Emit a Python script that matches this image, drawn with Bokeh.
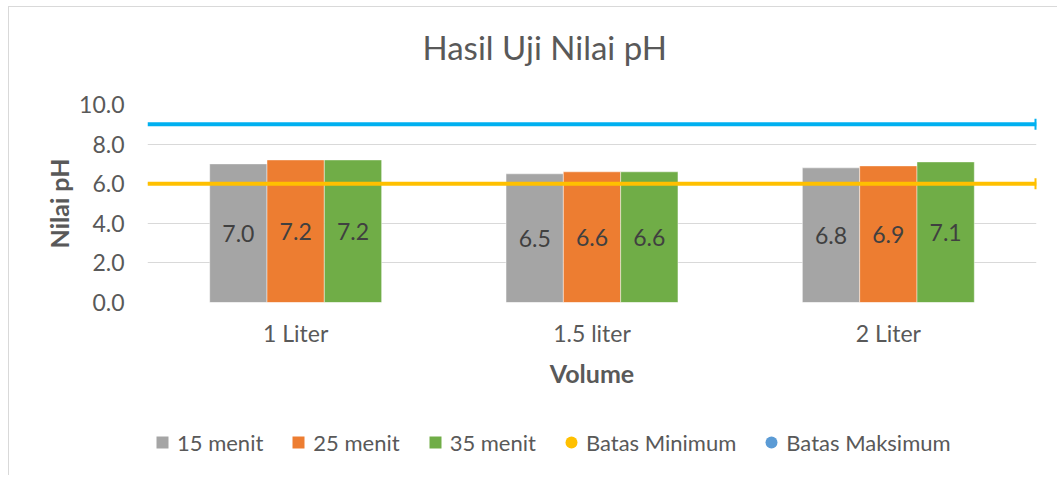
import math
from bokeh.plotting import figure
from bokeh.layouts import column
from bokeh.models import Range1d, Span, Legend, LegendItem, FixedTicker, PrintfTickFormatter
from bokeh.embed import file_html
from bokeh.resources import INLINE
from bokeh.core.properties import value

# ---- data ----
categories = ["1 Liter", "1.5 liter", "2 Liter"]
series_names = ["15 menit", "25 menit", "35 menit"]
menit_15 = [7.0, 6.5, 6.8]
menit_25 = [7.2, 6.6, 6.9]
menit_35 = [7.2, 6.6, 7.1]
batas_minimum = 6.0
batas_maksimum = 9.0
y_ticks = [0, 2, 4, 6, 8, 10]

series_values = [menit_15, menit_25, menit_35]
bar_colors = ["#a5a5a5", "#ed7d31", "#70ad47"]
FONT = "Lato"
TEXT = "#595959"
W = 1048


def blank(fig):
    fig.xaxis.visible = False
    fig.yaxis.visible = False
    fig.grid.visible = False
    fig.outline_line_color = None
    fig.background_fill_color = "white"
    fig.border_fill_color = "white"


# title strip
t = figure(width=W, height=83, output_backend="svg", toolbar_location=None,
           min_border_left=0, min_border_right=0, min_border_top=0, min_border_bottom=0,
           title="Hasil Uji Nilai pH")
blank(t)
t.title.align = "left"
t.title.offset = 275
t.title.text_font = FONT
t.title.text_font_size = "33px"
t.title.text_font_style = "normal"
t.title.text_color = TEXT
t.title.standoff = 48

p = figure(width=W, height=310, output_backend="svg", toolbar_location=None,
           x_range=Range1d(0, len(categories)), y_range=Range1d(0, 10),
           min_border_left=138, min_border_right=21, min_border_top=14,
           min_border_bottom=98)
p.outline_line_color = None
p.background_fill_color = "white"
p.border_fill_color = "white"

# grid
p.xgrid.visible = False
p.ygrid.grid_line_color = "#d9d9d9"
p.ygrid.grid_line_width = 1
p.yaxis.ticker = FixedTicker(ticks=y_ticks)

# axes
p.yaxis.formatter = PrintfTickFormatter(format="%.1f")
for ax in (p.xaxis, p.yaxis):
    ax.axis_line_color = None
    ax.major_tick_line_color = None
    ax.minor_tick_line_color = None
    ax.major_label_text_font = FONT
    ax.major_label_text_font_size = "23px"
    ax.major_label_text_color = TEXT
    ax.axis_label_text_font = FONT
    ax.axis_label_text_font_size = "25px"
    ax.axis_label_text_font_style = "bold"
    ax.axis_label_text_color = TEXT
p.yaxis.axis_label = "Nilai pH"
p.yaxis.major_label_standoff = 17
p.yaxis.axis_label_standoff = 2
p.xaxis.axis_label = "Volume"
p.xaxis.ticker = FixedTicker(ticks=[i + 0.5 for i in range(len(categories))])
p.xaxis.major_label_overrides = {i + 0.5: c for i, c in enumerate(categories)}
p.xaxis.major_label_standoff = 10
p.xaxis.axis_label_standoff = 8

# legend strip
q = figure(width=W, height=75, output_backend="svg", toolbar_location=None,
           min_border_left=0, min_border_right=0, min_border_top=0, min_border_bottom=0)
blank(q)

# bars
bar_w = 0.1934
legend_items = []
for j, (name, vals, col) in enumerate(zip(series_names, series_values, bar_colors)):
    xs = [i + 0.5 + (j - 1) * bar_w for i in range(len(categories))]
    p.vbar(x=xs, top=vals, width=bar_w, fill_color=col,
           line_color="white", line_alpha=0.45, line_width=1)
    p.text(x=xs, y=[v / 2 for v in vals], text=[f"{v:.1f}" for v in vals],
           text_align="center", text_baseline="middle",
           text_font=value(FONT), text_font_size="23px", text_color="#404040")
    proxy = q.scatter(x=xs, y=vals, size=0, marker="square",
                      fill_color=col, line_color=None)
    legend_items.append(LegendItem(label=name, renderers=[proxy]))

# limit lines
limits = [("Batas Minimum", batas_minimum, "#ffc000", "#ffc000"),
          ("Batas Maksimum", batas_maksimum, "#00b0f0", "#5b9bd5")]
for name, lv, lcol, mcol in limits:
    p.add_layout(Span(location=lv, dimension="width", line_color=lcol, line_width=4))
    p.scatter(x=[len(categories)], y=[lv], marker="dash", angle=math.pi / 2,
              size=11, line_color=lcol, line_width=4)
    proxy = q.scatter(x=[len(categories)], y=[lv], size=0, marker="circle",
                      fill_color=mcol, line_color=None)
    legend_items.append(LegendItem(label=name, renderers=[proxy]))

legend = Legend(items=legend_items, orientation="horizontal", location=(0, 18),
                label_text_font=FONT, label_text_font_size="22px",
                label_text_color=TEXT, glyph_width=30, glyph_height=30,
                label_standoff=0, spacing=20, border_line_color=None,
                background_fill_alpha=0, padding=0, margin=0)
q.add_layout(legend, "center")

layout = column(t, p, q, spacing=0, margin=(6, 0, 0, 8),
                styles={"border-top": "1px solid #d9d9d9", "border-left": "1px solid #d9d9d9"})

open("out.html", "w").write(file_html(layout, INLINE))
